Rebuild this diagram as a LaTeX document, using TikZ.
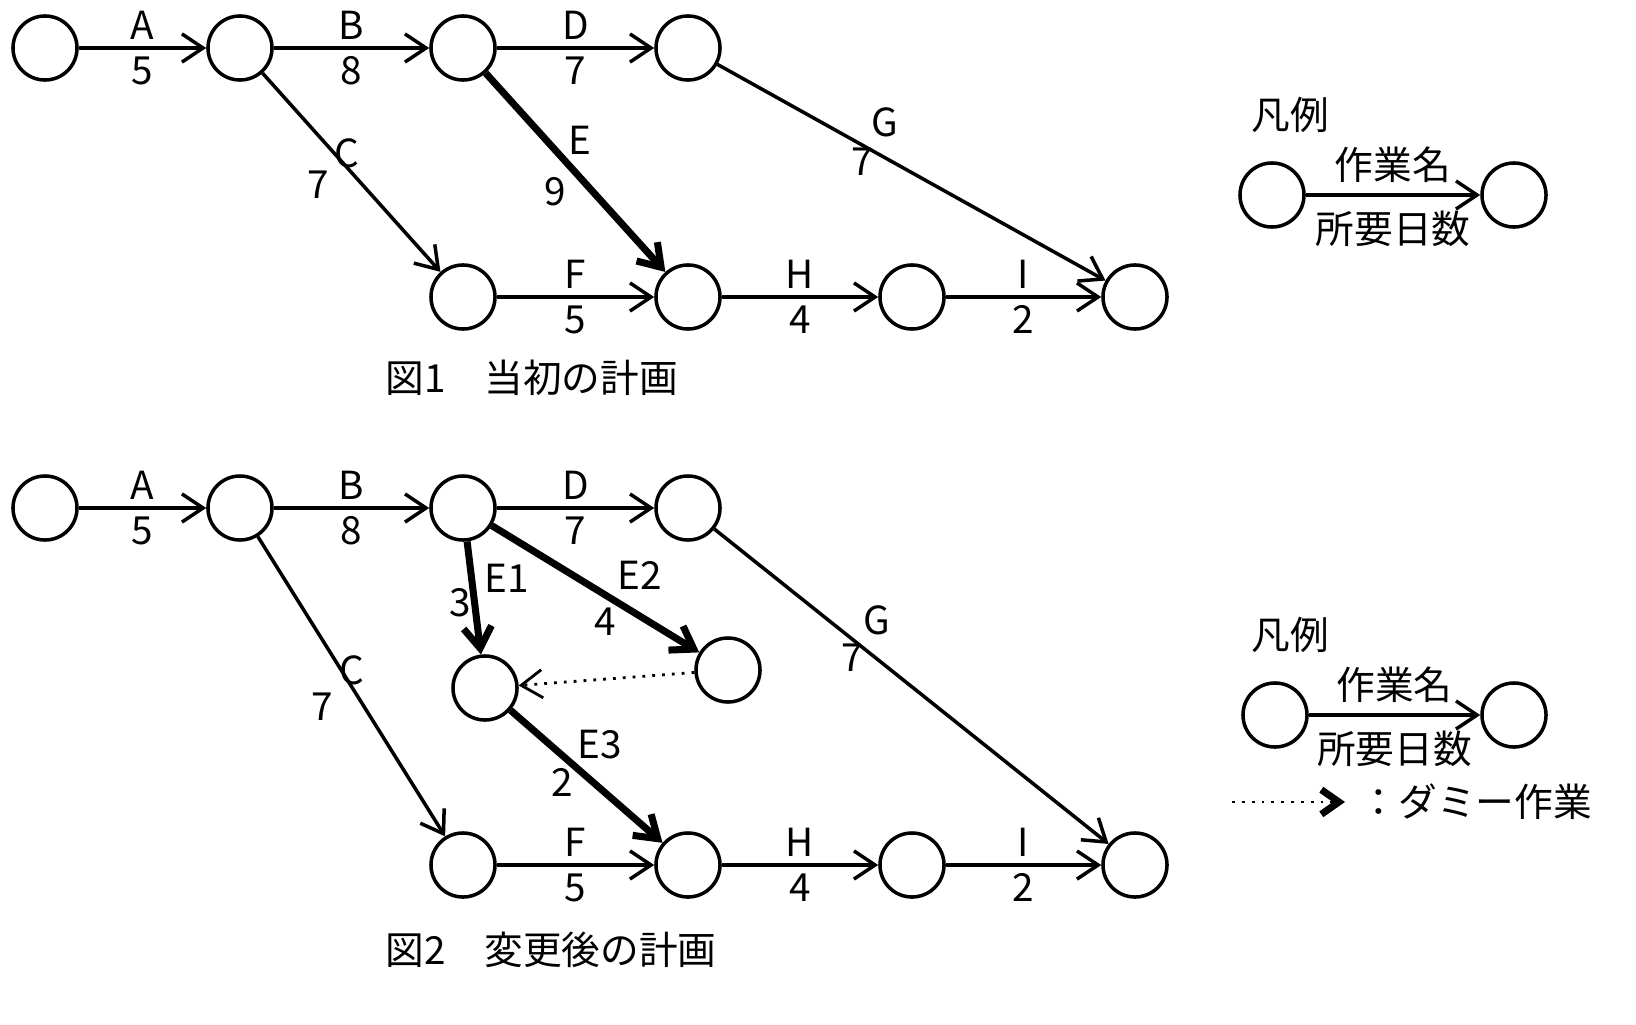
\documentclass[tikz,border=0pt]{standalone}
\usepackage{fontspec}
\setmainfont{Noto Sans CJK JP}
\usetikzlibrary{arrows.meta}
\begin{document}
\begin{tikzpicture}[x=0.01cm,y=-0.01cm,>={Straight Barb[length=6pt,width=8pt]},
  ev/.style={circle,draw,line width=1pt,minimum size=0.64cm,inner sep=0pt},
  act/.style={->,line width=1pt},
  crit/.style={->,line width=2pt},
  dummy/.style={->,thick,dotted},
  lb/.style={font=\fontsize{11}{13}\selectfont,inner sep=2pt}]
  \useasboundingbox (0,0) rectangle (1636,1024);

  % 図1
  \foreach \n/\x/\y in {a/45/48,b/240/48,c/463/48,d/688/48,f/463/297,e/688/297,h/912/297,z/1135/297}
    \node[ev] (p\n) at (\x,\y) {};
  \draw[act] (pa) -- node[lb,above]{A} node[lb,below]{5} (pb);
  \draw[act] (pb) -- node[lb,above]{B} node[lb,below]{8} (pc);
  \draw[act] (pc) -- node[lb,above]{D} node[lb,below]{7} (pd);
  \draw[act] (pb) -- (pf);
  \draw[crit] (pc) -- (pe);
  \draw[act] (pd) -- (pz);
  \draw[act] (pf) -- node[lb,above]{F} node[lb,below]{5} (pe);
  \draw[act] (pe) -- node[lb,above]{H} node[lb,below]{4} (ph);
  \draw[act] (ph) -- node[lb,above]{I} node[lb,below]{2} (pz);
  \node[lb] (lc) at (347,153) {C};  \node[lb] (nc) at (318,185) {7};
  \node[lb] (le) at (580,140) {E};  \node[lb] (ne) at (555,192) {9};
  \node[lb] (lg) at (885,122) {G};  \node[lb] (ng) at (862,162) {7};
  \node[lb,anchor=west] (cap1) at (378,378) {図1\quad 当初の計画};

  % 凡例1
  \node[ev] (l1a) at (1272,195) {};
  \node[ev] (l1b) at (1514,195) {};
  \draw[act] (l1a) -- node[lb,above=1pt]{作業名} node[lb,below=2pt]{所要日数} (l1b);
  \node[lb] (h1) at (1290,115) {凡例};

  % 図2
  \foreach \n/\x/\y in {a/45/508,b/240/508,c/463/508,d/688/508,m/485/688,k/728/670,f/463/865,e/688/865,h/912/865,z/1135/865}
    \node[ev] (q\n) at (\x,\y) {};
  \draw[act] (qa) -- node[lb,above]{A} node[lb,below]{5} (qb);
  \draw[act] (qb) -- node[lb,above]{B} node[lb,below]{8} (qc);
  \draw[act] (qc) -- node[lb,above]{D} node[lb,below]{7} (qd);
  \draw[act] (qb) -- (qf);
  \draw[crit] (qc) -- (qm);
  \draw[crit] (qc) -- (qk);
  \draw[dummy] (qk) -- (qm);
  \draw[crit] (qm) -- (qe);
  \draw[act] (qd) -- (qz);
  \draw[act] (qf) -- node[lb,above]{F} node[lb,below]{5} (qe);
  \draw[act] (qe) -- node[lb,above]{H} node[lb,below]{4} (qh);
  \draw[act] (qh) -- node[lb,above]{I} node[lb,below]{2} (qz);
  \node[lb] (lc2) at (352,670) {C};   \node[lb] (nc2) at (322,707) {7};
  \node[lb] (le1) at (507,578) {E1};  \node[lb] (ne1) at (460,603) {3};
  \node[lb] (le2) at (640,575) {E2};  \node[lb] (ne2) at (605,622) {4};
  \node[lb] (le3) at (600,745) {E3};  \node[lb] (ne3) at (562,782) {2};
  \node[lb] (lg2) at (877,620) {G};   \node[lb] (ng2) at (852,658) {7};
  \node[lb,anchor=west] (cap2) at (378,950) {図2\quad 変更後の計画};

  % 凡例2
  \node[ev] (l2a) at (1275,715) {};
  \node[ev] (l2b) at (1514,715) {};
  \draw[act] (l2a) -- node[lb,above=1pt]{作業名} node[lb,below=2pt]{所要日数} (l2b);
  \node[lb] (h2) at (1290,635) {凡例};
  \coordinate (ds) at (1232,802);
  \coordinate (de) at (1345,802);
  \draw[thick,dotted] (ds) -- (de);
  \draw[line width=2pt,-{Straight Barb[length=5pt,width=7pt]}] ([xshift=-2pt]de) -- (de);
  \node[lb,anchor=west] (dt) at (1352,802) {：ダミー作業};
\end{tikzpicture}
\end{document}
